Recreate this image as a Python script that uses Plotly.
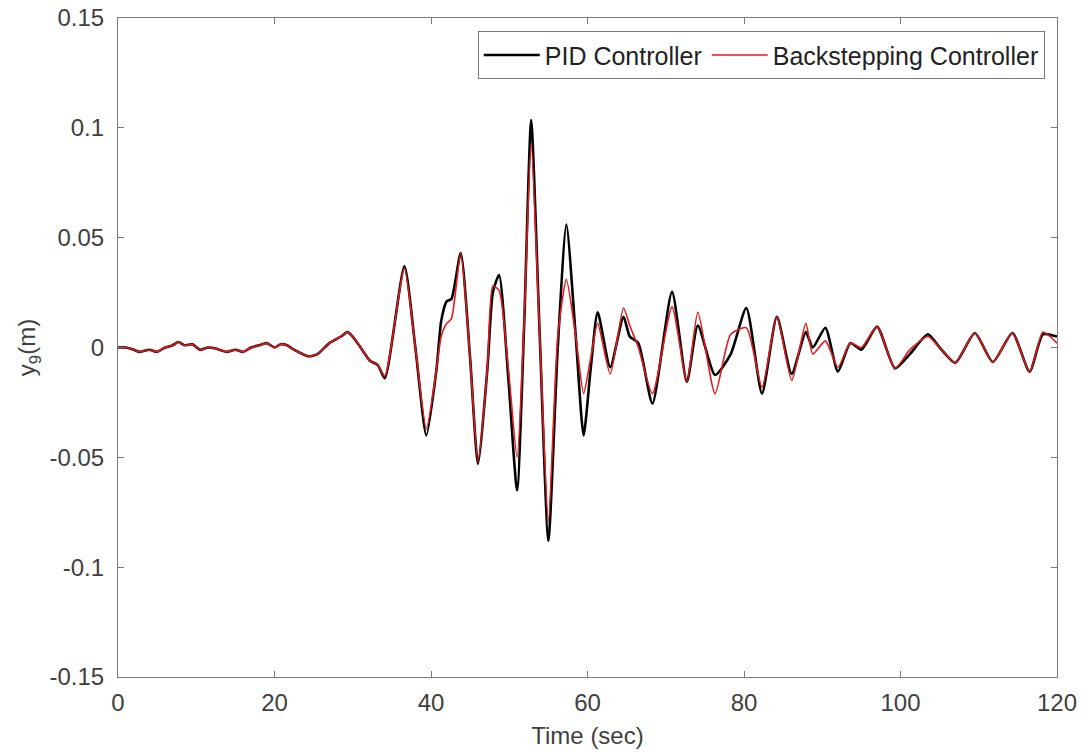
import plotly.graph_objects as go

# Time samples (sec) and displacement values (m)
time_s = [0.0, 1.0, 2.0, 2.8, 4.0, 5.0, 6.0, 7.0, 7.7, 8.5, 9.5, 10.5, 11.5, 12.5, 13.9,
          15.0, 16.0, 17.0, 18.0, 19.0, 20.0, 20.8, 21.6, 22.5, 24.3, 25.5, 27.0, 28.5,
          29.3, 30.0, 31.0, 32.2, 33.2, 34.1, 36.6, 38.0, 39.4, 40.7, 41.3, 42.0, 42.6,
          43.8, 45.0, 46.0, 47.2, 47.9, 48.7, 49.9, 51.0, 51.9, 52.8, 53.9, 55.0, 56.2,
          57.3, 58.5, 59.5, 60.4, 61.3, 62.9, 64.6, 65.4, 66.5, 68.3, 70.8, 72.7, 74.1,
          76.3, 78.3, 80.3, 82.3, 84.2, 86.1, 87.9, 88.8, 90.4, 92.0, 93.6, 95.0, 97.0,
          99.3, 101.2, 103.5, 105.0, 107.0, 109.5, 111.8, 114.3, 116.5, 118.2, 120.0]

pid_y = [0.000, 0.000, -0.001, -0.002, -0.001, -0.002, 0.000, 0.001, 0.0025, 0.001, 0.0015,
         -0.001, 0.000, -0.0005, -0.002, -0.001, -0.002, 0.000, 0.001, 0.002, 0.000, 0.0015,
         0.001, -0.001, -0.004, -0.003, 0.002, 0.005, 0.007, 0.005, 0.000, -0.006, -0.008,
         -0.014, 0.037, 0.000, -0.040, -0.010, 0.012, 0.021, 0.022, 0.043, -0.005, -0.053,
         -0.010, 0.025, 0.033, -0.015, -0.065, 0.010, 0.1035, 0.005, -0.088, 0.000, 0.056,
         0.005, -0.040, -0.010, 0.016, -0.009, 0.014, 0.005, 0.002, -0.0255, 0.0253, -0.0157,
         0.010, -0.0125, -0.003, 0.018, -0.021, 0.014, -0.012, 0.007, 0.000, 0.009, -0.011,
         0.002, -0.001, 0.0095, -0.0095, -0.003, 0.006, 0.000, -0.007, 0.0066, -0.0066,
         0.0066, -0.011, 0.006, 0.005]

bs_y = [0.000, 0.000, -0.001, -0.002, -0.001, -0.002, 0.000, 0.001, 0.0025, 0.001, 0.0015,
        -0.001, 0.000, -0.0005, -0.002, -0.001, -0.002, 0.000, 0.001, 0.002, 0.000, 0.0015,
        0.001, -0.001, -0.004, -0.003, 0.002, 0.005, 0.007, 0.005, 0.000, -0.006, -0.008,
        -0.013, 0.036, 0.000, -0.037, -0.010, 0.005, 0.011, 0.013, 0.043, -0.005, -0.052,
        -0.010, 0.028, 0.026, -0.010, -0.050, 0.012, 0.093, 0.005, -0.079, 0.005, 0.031,
        0.005, -0.021, -0.005, 0.011, -0.012, 0.018, 0.010, 0.000, -0.021, 0.0185, -0.0157,
        0.016, -0.021, 0.006, 0.009, -0.018, 0.014, -0.015, 0.011, -0.003, 0.003, -0.009,
        0.002, 0.000, 0.0095, -0.0095, -0.001, 0.005, 0.000, -0.007, 0.0066, -0.0066,
        0.0066, -0.011, 0.007, 0.002]

x_ticks = [0, 20, 40, 60, 80, 100, 120]
y_ticks = [-0.15, -0.1, -0.05, 0, 0.05, 0.1, 0.15]
y_tick_text = ["-0.15", "-0.1", "-0.05", "0", "0.05", "0.1", "0.15"]

FONT = "Liberation Sans, Arial, Helvetica"

fig = go.Figure()
fig.add_trace(go.Scatter(x=time_s, y=pid_y, mode="lines", name="PID Controller",
                         line=dict(color="black", width=2.6, shape="spline", smoothing=0.6)))
fig.add_trace(go.Scatter(x=time_s, y=bs_y, mode="lines", name="Backstepping Controller",
                         line=dict(color="#e31a1c", width=1.6, shape="spline", smoothing=0.6)))

axis_common = dict(showgrid=False, zeroline=False, showline=True, linecolor="#7a7a7a",
                   linewidth=1.2, mirror="ticks", ticks="inside", ticklen=6,
                   tickcolor="#7a7a7a", automargin=False,
                   tickfont=dict(family=FONT, size=24, color="#404040"))

fig.update_layout(
    width=1083, height=754,
    paper_bgcolor="white", plot_bgcolor="white",
    margin=dict(l=118, r=26, t=18, b=77),
    font=dict(family=FONT, color="#404040"),
    xaxis=dict(range=[0, 120], tickvals=x_ticks, ticklabelstandoff=4,
               title=dict(text="Time (sec)", font=dict(size=24), standoff=12),
               **axis_common),
    yaxis=dict(range=[-0.15, 0.15], tickvals=y_ticks, ticktext=y_tick_text,
               ticklabelstandoff=8,
               title=dict(text="y<sub>9</sub>(m)", font=dict(size=24), standoff=6),
               **axis_common),
    legend=dict(orientation="h", x=0.987, y=0.98, xanchor="right", yanchor="top",
                bgcolor="white", bordercolor="#7a7a7a", borderwidth=1,
                font=dict(family=FONT, size=25, color="#222222"), itemwidth=56,
                tracegroupgap=0),
    showlegend=True,
)

fig.write_html("out.html", config={"displayModeBar": False},
               post_script="document.body.style.margin='0px';")
